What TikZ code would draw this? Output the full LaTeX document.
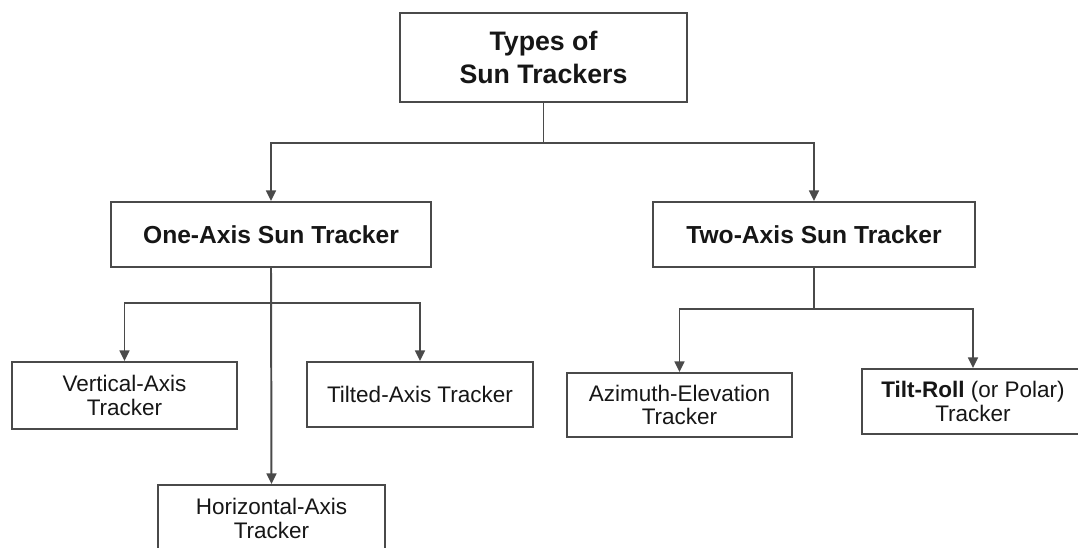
\documentclass[tikz,border=0pt]{standalone}
\usepackage{fontspec}
\setmainfont{Liberation Sans}
\usepackage{xcolor}
\usepackage{tikz}
\usetikzlibrary{positioning, arrows.meta, shapes}

\definecolor{linegray}{HTML}{4A4A4A}
\definecolor{textgray}{HTML}{161616}

\begin{document}
\begin{tikzpicture}[x=0.025cm, y=-0.025cm,
    box/.style={draw=linegray, line width=1.4pt, fill=white, text=textgray,
        align=center, inner sep=2pt,
        font=\fontsize{16}{16.5}\selectfont},
    midbox/.style={box, minimum height=1.625cm,
        font=\bfseries\fontsize{17.5}{21}\selectfont},
    topbox/.style={box, minimum width=7.175cm, minimum height=2.225cm,
        font=\bfseries\fontsize{19}{23}\selectfont},
    arr/.style={draw=linegray, line width=1.4pt,
        -{Triangle[length=7.5pt, width=7pt]}}]
    \useasboundingbox (0,0) rectangle (1078,547);

    \node[topbox] (types) at (543.5,57.5) {Types of\\Sun Trackers};

    \node[midbox, minimum width=8cm] (one) at (271,234.5) {One-Axis Sun Tracker};
    \node[midbox, minimum width=8.05cm] (two) at (814,234.5) {Two-Axis Sun Tracker};

    \node[box, minimum width=5.625cm, minimum height=1.675cm] (vert) at (124.5,395.5) {Vertical-Axis\\Tracker};
    \node[box, minimum width=5.65cm, minimum height=1.625cm] (tilt) at (420,394.5) {Tilted-Axis Tracker};
    \node[box, minimum width=5.675cm, minimum height=1.675cm] (horiz) at (271.5,518.5) {Horizontal-Axis\\Tracker};

    \node[box, minimum width=5.625cm, minimum height=1.6cm] (azim) at (679.5,405) {Azimuth-Elevation\\Tracker};
    \node[box, minimum width=5.55cm, minimum height=1.625cm] (polar) at (973,401.5) {\textbf{Tilt-Roll} (or Polar)\\Tracker};

    \coordinate (split) at (543.5,143);
    \coordinate (onesplit) at (271,303);
    \coordinate (twosplit) at (814,309);

    \draw[draw=linegray, line width=1.4pt] (types.south) -- (split);
    \draw[arr] (split) -| (one.north);
    \draw[arr] (split) -| (two.north);

    \draw[arr] (one.south) -- (horiz.north);
    \draw[arr] (onesplit) -| (vert.north);
    \draw[arr] (onesplit) -| (tilt.north);

    \draw[draw=linegray, line width=1.4pt] (two.south) -- (twosplit);
    \draw[arr] (twosplit) -| (azim.north);
    \draw[arr] (twosplit) -| (polar.north);
\end{tikzpicture}
\end{document}
